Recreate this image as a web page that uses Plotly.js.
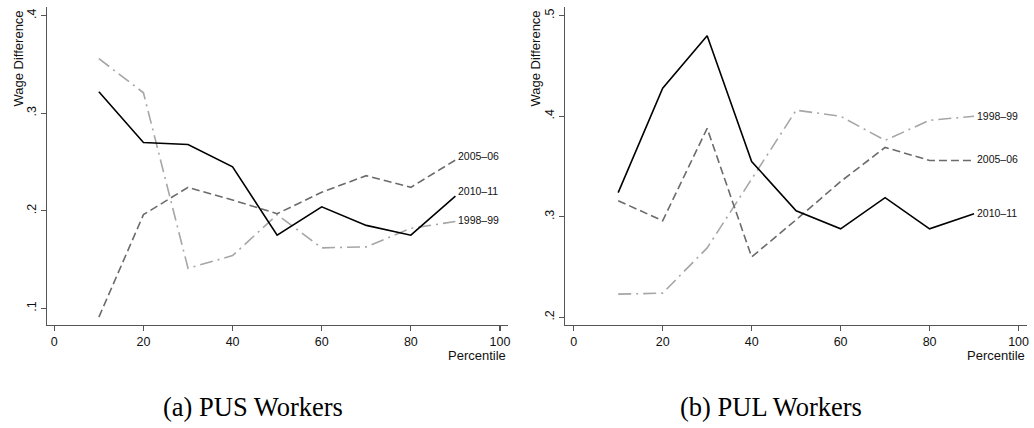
<!DOCTYPE html>
<html>
<head>
<meta charset="utf-8">
<script src="https://cdn.plot.ly/plotly-3.0.1.min.js"></script>
<style>
  html, body { margin: 0; padding: 0; background: #fff; }
  #chart { width: 1034px; height: 428px; }
</style>
</head>
<body>
<div id="chart"></div>
<script>
// Wage difference by percentile, three survey rounds, two worker groups
const percentiles = [10, 20, 30, 40, 50, 60, 70, 80, 90];
const seriesNames = ['1998–99', '2005–06', '2010–11'];

// (a) PUS workers
const pus1998 = [0.356, 0.321, 0.141, 0.154, 0.196, 0.162, 0.163, 0.182, 0.189];
const pus2005 = [0.091, 0.196, 0.224, 0.211, 0.197, 0.219, 0.236, 0.224, 0.252];
const pus2010 = [0.322, 0.270, 0.268, 0.245, 0.175, 0.204, 0.185, 0.175, 0.215];

// (b) PUL workers
const pul1998 = [0.223, 0.224, 0.269, 0.337, 0.406, 0.400, 0.376, 0.396, 0.400];
const pul2005 = [0.316, 0.296, 0.388, 0.260, 0.297, 0.335, 0.369, 0.356, 0.356];
const pul2010 = [0.324, 0.428, 0.480, 0.355, 0.306, 0.288, 0.319, 0.288, 0.303];

const xTicks = [0, 20, 40, 60, 80, 100];
const pusYTicks = [0.1, 0.2, 0.3, 0.4];
const pulYTicks = [0.2, 0.3, 0.4, 0.5];

const panelTitles = ['(a) PUS Workers', '(b) PUL Workers'];
const yTitle = 'Wage Difference';
const xTitle = 'Percentile';

const W = 1034, H = 428;
const SANS = 'Liberation Sans, Arial, Helvetica, sans-serif';
const SERIF = 'Liberation Serif, Times New Roman, serif';

const styles = [
  { color: '#a6a6a6', dash: '13px,5px,2px,5px', width: 1.6 },
  { color: '#6b6b6b', dash: '8px,4px', width: 1.6 },
  { color: '#000000', dash: 'solid', width: 1.6 }
];

const panels = [
  { data: [pus1998, pus2005, pus2010], xa: 'x', ya: 'y', labelShift: [2, 4, 5] },
  { data: [pul1998, pul2005, pul2010], xa: 'x2', ya: 'y2', labelShift: [0, 1, 1] }
];

const traces = [];
const annotations = [];

panels.forEach(p => {
  p.data.forEach((vals, si) => {
    traces.push({
      x: percentiles, y: vals, type: 'scatter', mode: 'lines',
      xaxis: p.xa, yaxis: p.ya, name: seriesNames[si], showlegend: false,
      line: { color: styles[si].color, dash: styles[si].dash, width: styles[si].width }
    });
    // series label at the end of each line
    annotations.push({
      x: percentiles[percentiles.length - 1], y: vals[vals.length - 1],
      xref: p.xa, yref: p.ya, text: seriesNames[si], showarrow: false,
      xanchor: 'left', yanchor: 'middle', xshift: 1, yshift: p.labelShift[si],
      font: { family: SANS, size: 10.5, color: '#111' }
    });
  });
});

// pixel helpers for paper coordinates
const px = v => v / W;
const py = v => (H - v) / H;

const panelBox = [
  { x0: 47, x1: 508, title: 18.5, cap: 253 },
  { x0: 565.3, x1: 1027, title: 535.5, cap: 771 }
];

panelBox.forEach((b, i) => {
  annotations.push({
    x: px(b.title), y: py(59), xref: 'paper', yref: 'paper',
    text: yTitle, textangle: -90, showarrow: false,
    xanchor: 'center', yanchor: 'middle',
    font: { family: SANS, size: 13, color: '#111' }
  });
  annotations.push({
    x: px(b.x1), y: py(355), xref: 'paper', yref: 'paper',
    text: xTitle, showarrow: false, xanchor: 'right', yanchor: 'middle',
    font: { family: SANS, size: 13, color: '#111' }
  });
  annotations.push({
    x: px(b.cap), y: py(407), xref: 'paper', yref: 'paper',
    text: panelTitles[i], showarrow: false, xanchor: 'center', yanchor: 'middle',
    font: { family: SERIF, size: 26.5, color: '#000' }
  });
});

const fmtTick = v => String(v).replace(/^0/, '');

function xAxis(domain, range, anchor) {
  return {
    domain: domain, range: range, anchor: anchor,
    tickvals: xTicks, ticktext: xTicks.map(String),
    ticks: 'outside', ticklen: 5, tickwidth: 1.2, tickcolor: '#555',
    showline: true, linecolor: '#555', linewidth: 1.3, showgrid: false, zeroline: false,
    tickfont: { family: SANS, size: 12.5, color: '#111' }, fixedrange: true
  };
}
function yAxis(domain, range, ticks, anchor) {
  return {
    domain: domain, range: range, anchor: anchor,
    tickvals: ticks, ticktext: ticks.map(fmtTick), tickangle: -90,
    ticks: 'outside', ticklen: 5, tickwidth: 1.2, tickcolor: '#555',
    showline: true, linecolor: '#555', linewidth: 1.3, showgrid: false, zeroline: false,
    tickfont: { family: SANS, size: 12.5, color: '#111' }, fixedrange: true
  };
}

const yDom = [py(325), py(6.7)];

const layout = {
  width: W, height: H,
  margin: { l: 0, r: 0, t: 0, b: 0 },
  paper_bgcolor: '#fff', plot_bgcolor: '#fff',
  showlegend: false,
  xaxis: xAxis([px(47), px(508)], [-1.64, 101.8], 'y'),
  yaxis: yAxis(yDom, [0.0829, 0.4092], pusYTicks, 'x'),
  xaxis2: xAxis([px(565.3), px(1027)], [-1.89, 101.9], 'y2'),
  yaxis2: yAxis(yDom, [0.1923, 0.509], pulYTicks, 'x2'),
  annotations: annotations
};

Plotly.newPlot('chart', traces, layout, { staticPlot: true, displayModeBar: false });
</script>
</body>
</html>
